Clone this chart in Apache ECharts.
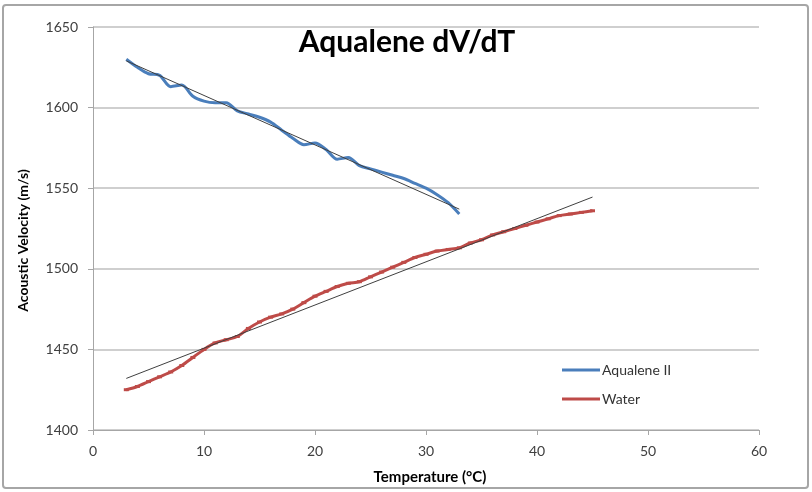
<!DOCTYPE html>
<html>
<head>
<meta charset="utf-8">
<script src="https://cdn.jsdelivr.net/npm/echarts@6/dist/echarts.min.js"></script>
<style>
  html, body { margin: 0; padding: 0; background: #fff; }
  #chart { width: 812px; height: 492px; }
</style>
</head>
<body>
<div id="chart"></div>
<script>
// temperatures (°C)
const aqualeneTemp = [3, 4, 5, 6, 7, 8, 9, 10, 11, 12, 13, 14, 15, 16, 17, 18, 19, 20, 21, 22, 23, 24, 25, 26, 27, 28, 29, 30, 31, 32, 33]
const aqualeneVel = [1630, 1625, 1621, 1620, 1613, 1614, 1607, 1604, 1603, 1603, 1598, 1596, 1594, 1591, 1586, 1581, 1577, 1578, 1574, 1568, 1569, 1564, 1562, 1560, 1558, 1556, 1553, 1550, 1546, 1541, 1534]

const waterTemp = [3, 4, 5, 6, 7, 8, 9, 10, 11, 12, 13, 14, 15, 16, 17, 18, 19, 20, 21, 22, 23, 24, 25, 26, 27, 28, 29, 30, 31, 32, 33, 34, 35, 36, 37, 38, 39, 40, 41, 42, 43, 44, 45]
const waterVel = [1425, 1427, 1430, 1433, 1436, 1440, 1445, 1450, 1454, 1456, 1458, 1463, 1467, 1470, 1472, 1475, 1479, 1483, 1486, 1489, 1491, 1492, 1495, 1498, 1501, 1504, 1507, 1509, 1511, 1512, 1513, 1516, 1518, 1521, 1523, 1525, 1527, 1529, 1531, 1533, 1534, 1535, 1536]

// linear trendlines (end points)
const aqualeneTrendTemp = [3, 33]
const aqualeneTrendVel = [1629, 1537]
const waterTrendTemp = [3, 45]
const waterTrendVel = [1432, 1544.5]

const xTicks = [0, 10, 20, 30, 40, 50, 60]
const yTicks = [1400, 1450, 1500, 1550, 1600, 1650]

const pairs = (xs, ys) => xs.map((x, i) => [x, ys[i]])

const font = 'Lato, "Open Sans", sans-serif'

let myEcharts = echarts.init(document.getElementById('chart'), null, { renderer: 'canvas' })
let option = {
    backgroundColor: '#fff',
    animation: false,
    title: {
        text: 'Aqualene dV/dT',
        left: 402,
        top: 22,
        textAlign: 'center',
        textStyle: { fontFamily: font, fontSize: 30, fontWeight: 'bold', color: '#000' }
    },
    graphic: [{
        type: 'rect',
        shape: { x: 3, y: 5, width: 805, height: 483, r: 3 },
        style: { fill: 'none', stroke: '#a6a6a6', lineWidth: 2 },
        silent: true,
        z: -1
    }],
    legend: {
        orient: 'vertical',
        left: 557,
        top: 358,
        itemGap: 15,
        itemWidth: 38,
        itemHeight: 3,
        icon: 'rect',
        data: ['Aqualene II', 'Water'],
        textStyle: { fontFamily: font, fontSize: 14, color: '#333', padding: [0, 0, 0, -3] }
    },
    grid: { left: 93, right: 53, top: 27, bottom: 62, containLabel: false },
    xAxis: {
        type: 'value',
        min: xTicks[0],
        max: xTicks[xTicks.length - 1],
        interval: 10,
        name: 'Temperature (°C)',
        nameLocation: 'middle',
        nameGap: 40,
        nameTextStyle: { fontFamily: font, fontSize: 15, fontWeight: 'bold', color: '#000', padding: [0, 0, 0, 8] },
        axisLine: { show: true, lineStyle: { color: '#a6a6a6' } },
        axisTick: { show: true, length: 5, lineStyle: { color: '#a6a6a6' } },
        axisLabel: { fontFamily: font, fontSize: 14, color: '#404040', margin: 14 },
        splitLine: { show: false }
    },
    yAxis: {
        type: 'value',
        min: yTicks[0],
        max: yTicks[yTicks.length - 1],
        interval: 50,
        name: 'Acoustic Velocity (m/s)',
        nameLocation: 'middle',
        nameGap: 63,
        nameTextStyle: { fontFamily: font, fontSize: 14, fontWeight: 'bold', color: '#000', padding: [0, 24, 0, 0] },
        axisLine: { show: true, lineStyle: { color: '#a6a6a6' } },
        axisTick: { show: true, length: 5, lineStyle: { color: '#a6a6a6' } },
        axisLabel: { fontFamily: font, fontSize: 14, color: '#404040', margin: 15, formatter: v => String(v) },
        splitLine: { show: true, lineStyle: { color: '#bfbfbf', width: 1.5 } }
    },
    series: [{
        name: 'Aqualene II',
        type: 'line',
        data: pairs(aqualeneTemp, aqualeneVel),
        smooth: 0.3,
        showSymbol: false,
        symbol: 'none',
        lineStyle: { color: '#4a7ebb', width: 3 },
        itemStyle: { color: '#4a7ebb' },
        z: 3
    }, {
        name: 'Water',
        type: 'line',
        data: pairs(waterTemp, waterVel),
        smooth: 0.3,
        symbol: 'rect',
        symbolSize: [5, 3],
        lineStyle: { color: '#be4b48', width: 3 },
        itemStyle: { color: '#be4b48' },
        z: 3
    }, {
        name: 'Aqualene trend',
        type: 'line',
        data: pairs(aqualeneTrendTemp, aqualeneTrendVel),
        symbol: 'none',
        lineStyle: { color: '#404040', width: 1 },
        z: 4
    }, {
        name: 'Water trend',
        type: 'line',
        data: pairs(waterTrendTemp, waterTrendVel),
        symbol: 'none',
        lineStyle: { color: '#404040', width: 1 },
        z: 4
    }]
}
myEcharts.setOption(option)
</script>
</body>
</html>
